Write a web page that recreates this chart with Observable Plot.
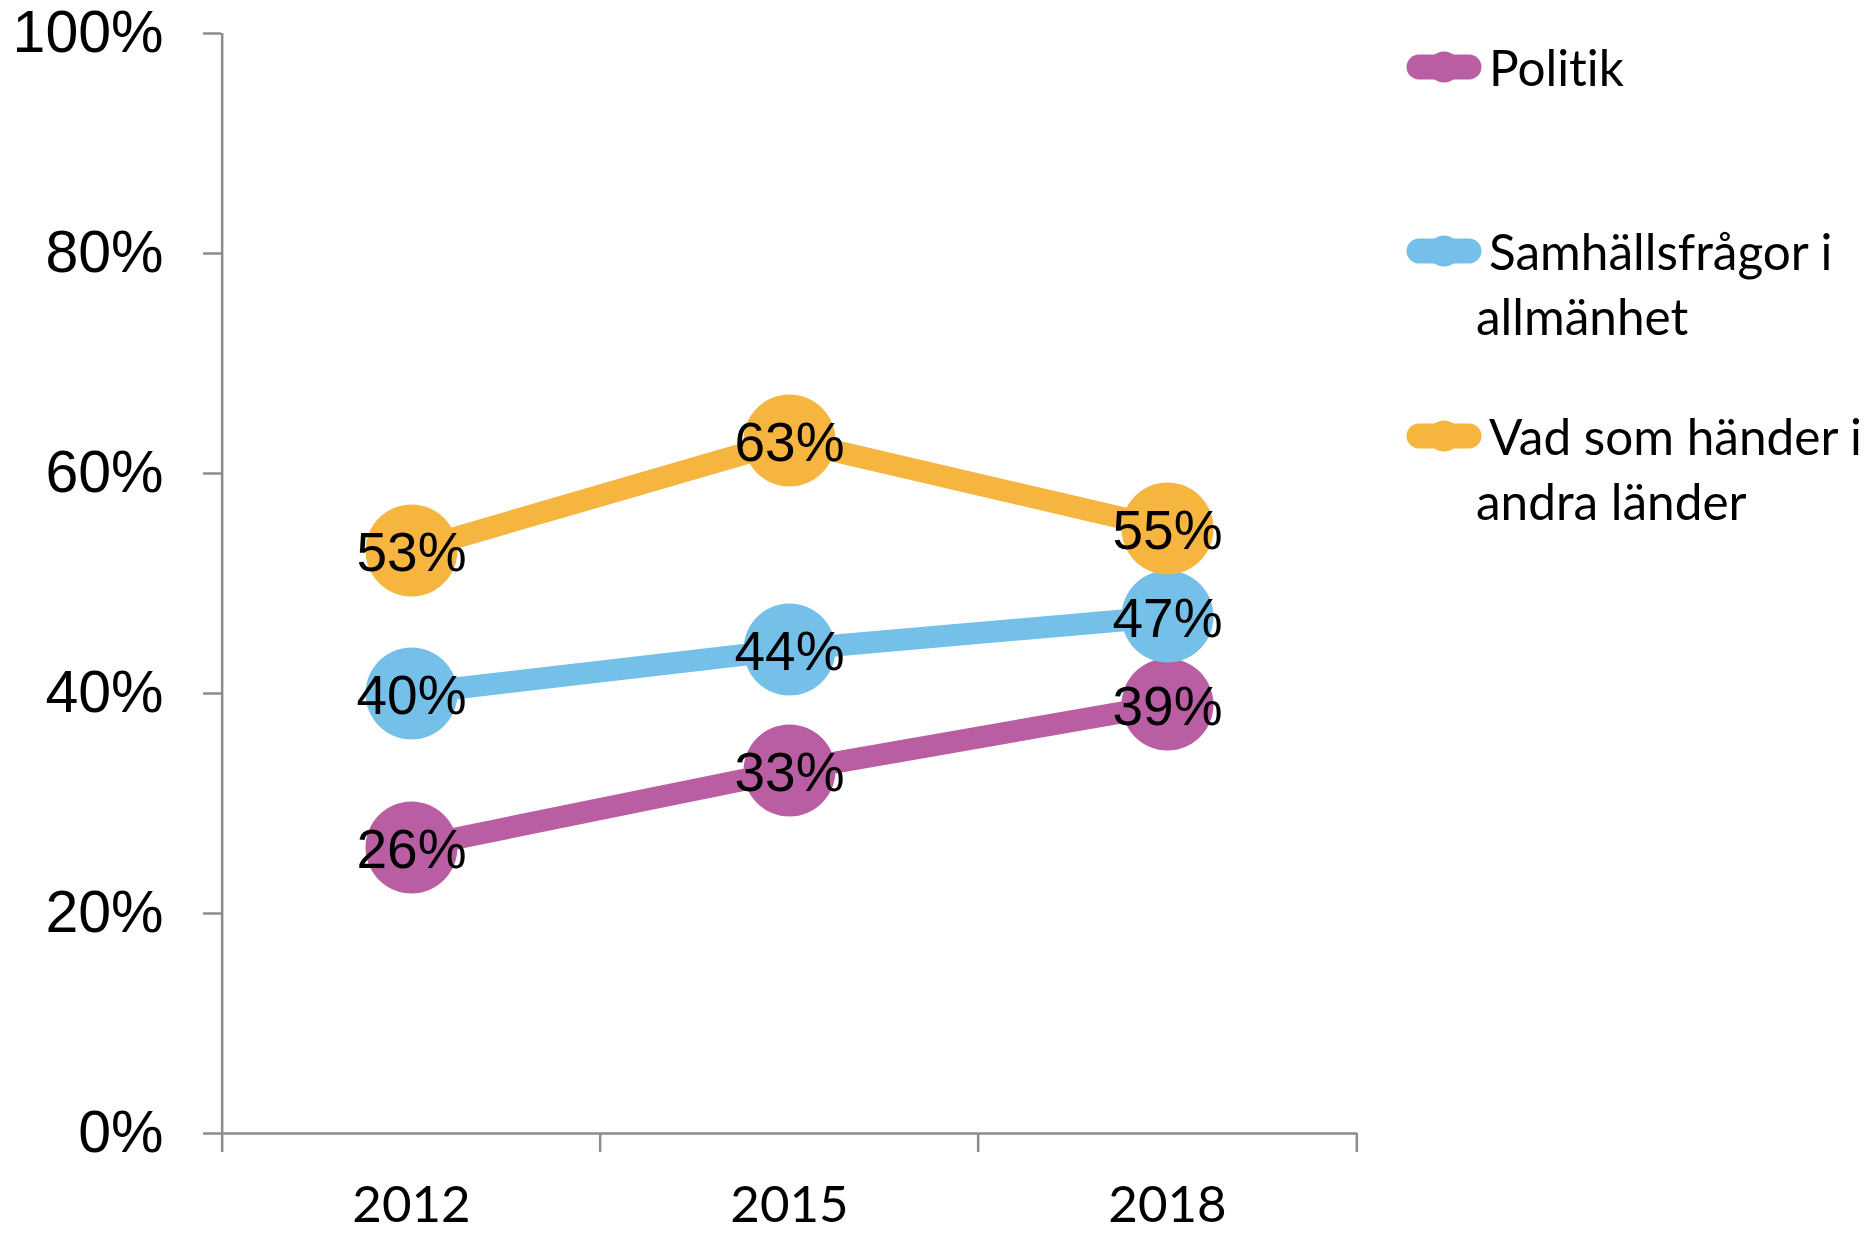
<!DOCTYPE html>
<html>
<head>
<meta charset="utf-8">
<script src="https://cdn.jsdelivr.net/npm/d3@7"></script>
<script src="https://cdn.jsdelivr.net/npm/@observablehq/plot@0.6"></script>
<style>
  html, body { margin: 0; padding: 0; background: #fff; }
  #wrap { position: relative; width: 1874px; height: 1233px; overflow: hidden; }
  .leg { position: absolute; left: 1476px; width: 398px; font-family: Lato, "Open Sans", sans-serif; font-size: 49.5px; line-height: 65px; color: #000; white-space: nowrap; font-variant-ligatures: none; font-feature-settings: "liga" 0; }
  .leg .first { padding-left: 13px; }
  .sw { position: absolute; left: 1405px; }
</style>
</head>
<body>
<div id="wrap"></div>
<script>
// ---- data ----
const years = ["2012", "2015", "2018"];
const seriesNames = ["Politik", "Samhällsfrågor i allmänhet", "Vad som händer i andra länder"];
const politik = [0.26, 0.33, 0.39];
const samhall = [0.40, 0.44, 0.47];
const andraLander = [0.53, 0.63, 0.55];
const seriesColors = ["#B95EA3", "#75C0E9", "#F5B53F"];
const yTicks = [0, 0.2, 0.4, 0.6, 0.8, 1.0];
const legendLines = [["Politik"], ["Samhällsfrågor i", "allmänhet"], ["Vad som händer i", "andra länder"]];

const values = [politik, samhall, andraLander];
const data = seriesNames.flatMap((s, i) => years.map((y, j) => ({series: s, year: y, value: values[i][j]})));

// ---- layout ----
const W = 1874, H = 1233;
const mL = 221, mR = 517, mT = 33, mB = 100;
const step = (W - mL - mR) / years.length;
const gray = "#8c8c8c";

const seriesMarks = seriesNames.flatMap(s => {
  const d = data.filter(r => r.series === s);
  return [
    Plot.line(d, {x: "year", y: "value", stroke: "series", strokeWidth: 22}),
    Plot.dot(d, {x: "year", y: "value", fill: "series", r: 46, stroke: null})
  ];
});

const chart = Plot.plot({
  width: W, height: H,
  marginLeft: mL, marginRight: mR, marginTop: mT, marginBottom: mB,
  style: {background: "white", overflow: "visible"},
  x: {type: "point", domain: years, padding: 0.5, axis: null},
  y: {domain: [0, 1], axis: null},
  color: {domain: seriesNames, range: seriesColors},
  marks: [
    // y axis line
    Plot.ruleX([years[0]], {x: d => d, dx: -step / 2, y1: 0, y2: 1, stroke: gray, strokeWidth: 2.5}),
    // x axis line
    Plot.ruleY([0], {stroke: gray, strokeWidth: 2.5}),
    // y ticks + labels
    Plot.axisY({ticks: yTicks, tickSize: 18, tickPadding: 40, tickFormat: d3.format(".0%"),
      stroke: gray, strokeWidth: 2.5, fill: "black", fontSize: 59,
      fontFamily: "'Liberation Sans', Arial, sans-serif", label: null}),
    // x ticks at category boundaries
    Plot.axisX({ticks: years, tickSize: 19, dx: -step / 2, stroke: gray, strokeWidth: 2.5, fill: "none", label: null}),
    Plot.axisX({ticks: [years[years.length - 1]], tickSize: 19, dx: step / 2, stroke: gray, strokeWidth: 2.5, fill: "none", label: null}),
    // x labels
    Plot.axisX({ticks: years, tickSize: 0, tickPadding: 52, fill: "black", fontSize: 51,
      fontFamily: "Lato, 'Open Sans', sans-serif", label: null}),
    ...seriesMarks,
    Plot.text(data, {x: "year", y: "value", text: d => d3.format(".0%")(d.value), fill: "black",
      fontSize: 55, dy: 3, fontFamily: "'Liberation Sans', Arial, sans-serif"})
  ]
});

const wrap = document.getElementById("wrap");
wrap.appendChild(chart);

// ---- legend ----
const legendTops = [35, 219, 404];
seriesNames.forEach((s, i) => {
  const top = legendTops[i];
  const sw = document.createElementNS("http://www.w3.org/2000/svg", "svg");
  sw.setAttribute("class", "sw");
  sw.setAttribute("width", 80);
  sw.setAttribute("height", 34);
  sw.style.top = (top + 32 - 17) + "px";
  sw.innerHTML = `<line x1="14" y1="17" x2="64" y2="17" stroke="${seriesColors[i]}" stroke-width="25" stroke-linecap="round"/>` +
    `<circle cx="39" cy="17" r="15.5" fill="${seriesColors[i]}"/>`;
  wrap.appendChild(sw);
  const div = document.createElement("div");
  div.className = "leg";
  div.style.top = top + "px";
  legendLines[i].forEach((t, k) => {
    const l = document.createElement("div");
    if (k === 0) l.className = "first";
    l.textContent = t;
    div.appendChild(l);
  });
  wrap.appendChild(div);
});
</script>
</body>
</html>
